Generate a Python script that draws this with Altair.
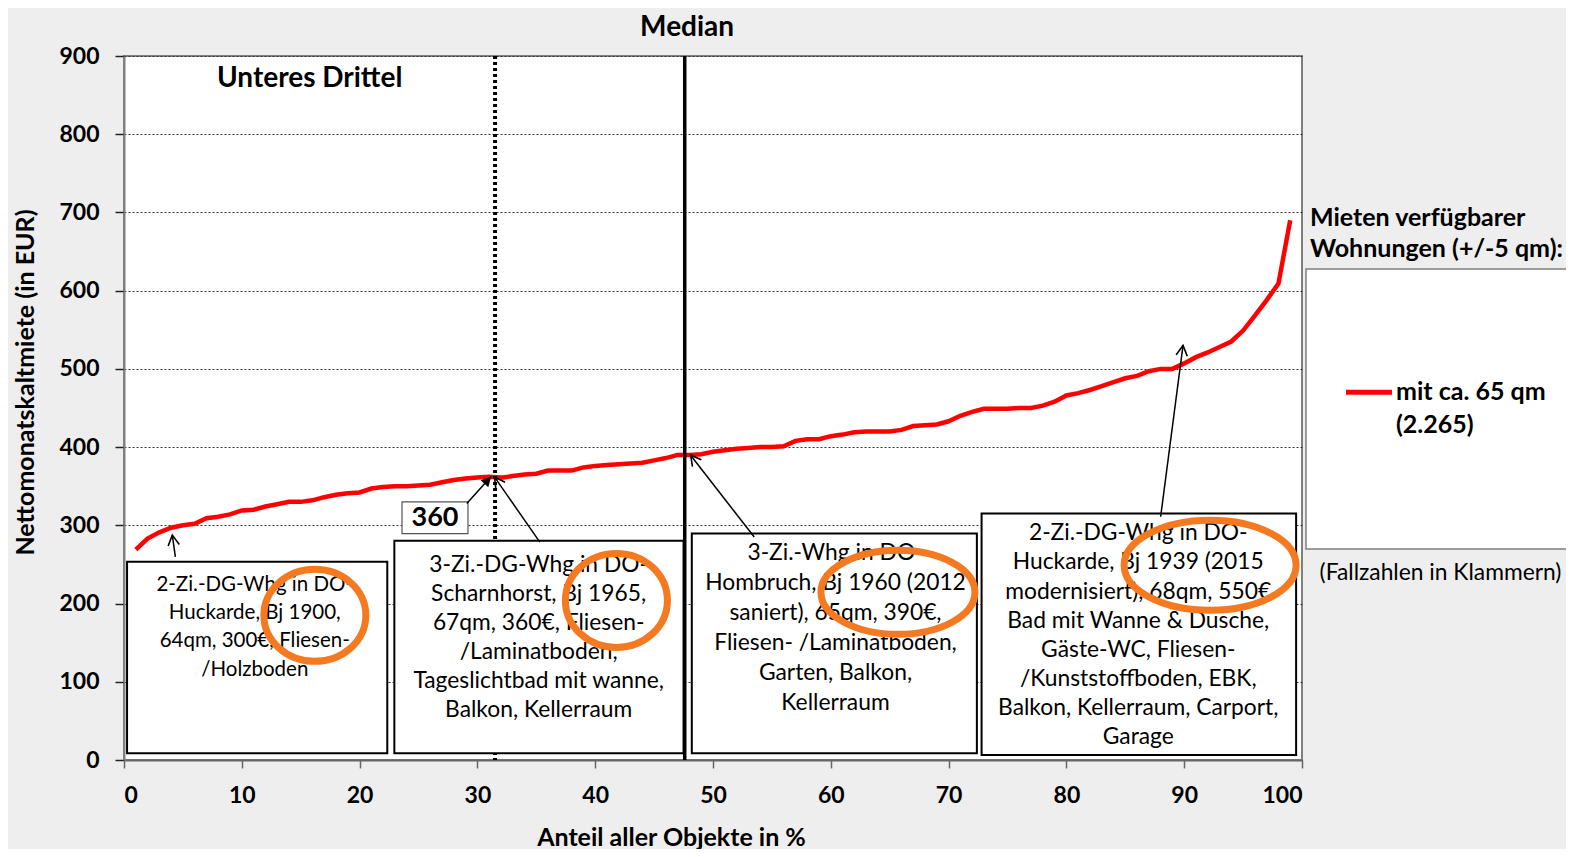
import math
import altair as alt
import pandas as pd

# ---------------- data ----------------
pct = list(range(1, 100))
rent = [269, 283, 291, 297, 300, 302, 309, 311, 314, 319,
        320, 324, 327, 330, 330, 332, 336, 339, 341, 342,
        347, 349, 350, 350, 351, 352, 355, 358, 360, 361,
        362, 361, 363, 365, 366, 370, 370, 370, 374, 376,
        377, 378, 379, 380, 383, 386, 390, 390, 391, 394,
        396, 398, 399, 400, 400, 401, 408, 410, 410, 414,
        416, 419, 420, 420, 420, 422, 427, 428, 429, 433,
        440, 445, 449, 449, 449, 450, 450, 453, 458, 466,
        469, 473, 478, 483, 488, 491, 497, 500, 500, 507,
        515, 521, 528, 535, 549, 568, 588, 609, 690]
series_label = "mit ca. 65 qm\n(2.265)"
legend_title = "Mieten verfügbarer\nWohnungen (+/-5 qm):"
legend_note = "(Fallzahlen in Klammern)"

x_ticks = [0, 10, 20, 30, 40, 50, 60, 70, 80, 90, 100]
y_ticks = [0, 100, 200, 300, 400, 500, 600, 700, 800, 900]

lower_third_pos = [31.5]
median_pos = [47.6]

box_text = [
    "2-Zi.-DG-Whg in DO-\nHuckarde, Bj 1900,\n64qm, 300€, Fliesen-\n/Holzboden",
    "3-Zi.-DG-Whg in DO-\nScharnhorst, Bj 1965,\n67qm, 360€, Fliesen-\n/Laminatboden,\nTageslichtbad mit wanne,\nBalkon, Kellerraum",
    "3-Zi.-Whg in DO-\nHombruch, Bj 1960 (2012\nsaniert), 65qm, 390€,\nFliesen- /Laminatboden,\nGarten, Balkon,\nKellerraum",
    "2-Zi.-DG-Whg in DO-\nHuckarde, Bj 1939 (2015\nmodernisiert), 68qm, 550€\nBad mit Wanne & Dusche,\nGäste-WC, Fliesen-\n/Kunststoffboden, EBK,\nBalkon, Kellerraum, Carport,\nGarage",
]
box_x1 = [0.26, 22.95, 48.2, 72.8]
box_x2 = [22.35, 47.5, 72.4, 99.5]
box_y1 = [8.6, 8.6, 8.6, 6.4]
box_y2 = [253.4, 280.3, 289.7, 315.0]
text_x = [11.1, 35.2, 60.4, 86.1]
text_y = [223.6, 249.2, 264.5, 289.7]   # centre of the first line
text_lh = [28.2, 29.0, 30.0, 29.1]
text_size = [20.5, 22.8, 22.8, 22.8]

value_box = [23.6, 29.2, 289.3, 330.0]   # x1, x2, y1, y2
value_text = ["360"]
value_pos = [26.4, 308.8]

# arrows: tail -> tip
arrow_x1 = [4.36, 35.3, 53.5, 88.0]
arrow_y1 = [259.8, 278.6, 285.0, 311.0]
arrow_x2 = [4.1, 31.46, 48.1, 89.9]
arrow_y2 = [287.5, 361.6, 389.7, 530.0]
fill_arrow = [29.1, 328.0, 31.18, 362.9]

circle_x = [16.2, 41.8, 65.7, 92.2]
circle_y = [184.9, 204.0, 214.4, 249.0]
circle_rx = [51, 51, 77, 86]
circle_ry = [46, 47, 42, 45]

# ---------------- layout ----------------
W, H = 1178, 704
KX = W / 100.0
KY = H / 900.0
FONT = "Lato"
ORANGE = "#F47920"

xs = alt.Scale(domain=[0, 100], nice=False, zero=False)
ys = alt.Scale(domain=[0, 900], nice=False)

AX = alt.Axis(
    values=x_ticks, title="Anteil aller Objekte in %", grid=False,
    labelFont=FONT, labelFontSize=23, labelFontWeight="bold", labelColor="black",
    tickSize=8, tickColor="#666666", tickWidth=1.5,
    domainColor="#666666", domainWidth=2, labelPadding=16,
    titleFont=FONT, titleFontSize=25, titleFontWeight="bold", titleColor="black",
    titleX=547, titleY=85, titleBaseline="alphabetic", titleAnchor="middle")
AY = alt.Axis(
    values=y_ticks, title="Nettomonatskaltmiete (in EUR)",
    grid=True, gridColor="#333333", gridDash=[2, 2], gridWidth=1,
    labelFont=FONT, labelFontSize=23, labelFontWeight="bold", labelColor="black",
    tickSize=9, tickColor="#222222", tickWidth=1.5,
    domainColor="#808080", domainWidth=2, labelPadding=16,
    titleFont=FONT, titleFontSize=25, titleFontWeight="bold", titleColor="black",
    titleX=-91, titleY=326, titleBaseline="alphabetic", titleAnchor="middle")


def X(f):
    return alt.X(f, type="quantitative", scale=xs, axis=AX)


def Y(f):
    return alt.Y(f, type="quantitative", scale=ys, axis=AY)


line_df = pd.DataFrame({"pct": pct, "rent": rent})
line = alt.Chart(line_df).mark_line(color="#ff0000", strokeWidth=4.5).encode(
    x=X("pct"), y=Y("rent"))

dotted = alt.Chart(pd.DataFrame({"x": lower_third_pos})).mark_rule(
    color="black", strokeWidth=4, strokeDash=[3, 3]).encode(x=X("x"))
solid = alt.Chart(pd.DataFrame({"x": median_pos})).mark_rule(
    color="black", strokeWidth=3.5).encode(x=X("x"))

box_df = pd.DataFrame({"x1": box_x1, "x2": box_x2, "y1": box_y1, "y2": box_y2})
boxes = alt.Chart(box_df).mark_rect(fill="white", stroke="black", strokeWidth=2).encode(
    x=X("x1"), x2="x2", y=Y("y1"), y2="y2")

box_labels = []
for t, tx, ty, lh, fs in zip(box_text, text_x, text_y, text_lh, text_size):
    df = pd.DataFrame({"tx": [tx], "ty": [ty], "text": [t]})
    box_labels.append(alt.Chart(df).mark_text(
        font=FONT, fontSize=fs, color="black", align="center", baseline="middle",
        lineBreak="\n", lineHeight=lh).encode(x=X("tx"), y=Y("ty"), text="text:N"))

vb_df = pd.DataFrame({"x1": [value_box[0]], "x2": [value_box[1]],
                      "y1": [value_box[2]], "y2": [value_box[3]],
                      "tx": [value_pos[0]], "ty": [value_pos[1]], "text": value_text})
vbox = alt.Chart(vb_df).mark_rect(fill="white", stroke="#555555", strokeWidth=1.2).encode(
    x=X("x1"), x2="x2", y=Y("y1"), y2="y2")
vtext = alt.Chart(vb_df).mark_text(
    font=FONT, fontSize=27, fontWeight="bold", color="black", align="center",
    baseline="middle").encode(x=X("tx"), y=Y("ty"), text="text:N")


def head_angle(x1, y1, x2, y2):
    dxs = (x2 - x1) * KX
    dys = -(y2 - y1) * KY
    return (math.degrees(math.atan2(dxs, -dys)) + 360) % 360


arr_df = pd.DataFrame({"x1": arrow_x1, "y1": arrow_y1, "x2": arrow_x2, "y2": arrow_y2})
arr_df["angle"] = [head_angle(a, b, c, d) for a, b, c, d in
                   zip(arrow_x1, arrow_y1, arrow_x2, arrow_y2)]
arrows = alt.Chart(arr_df).mark_rule(color="black", strokeWidth=1.5).encode(
    x=X("x1"), y=Y("y1"), x2="x2", y2="y2")
heads = alt.Chart(arr_df).mark_point(
    shape="M-0.55,1L0,0L0.55,1", size=420, filled=False, color="black",
    strokeWidth=1.6, opacity=1).encode(
    x=X("x2"), y=Y("y2"), angle=alt.Angle("angle:Q", scale=None))

fa_df = pd.DataFrame({"x1": [fill_arrow[0]], "y1": [fill_arrow[1]],
                      "x2": [fill_arrow[2]], "y2": [fill_arrow[3]]})
fa_df["angle"] = [head_angle(*fill_arrow)]
farrow = alt.Chart(fa_df).mark_rule(color="black", strokeWidth=1.5).encode(
    x=X("x1"), y=Y("y1"), x2="x2", y2="y2")
fhead = alt.Chart(fa_df).mark_point(
    shape="M-0.5,1L0,0L0.5,1Z", size=420, filled=True, color="black", opacity=1).encode(
    x=X("x2"), y=Y("y2"), angle=alt.Angle("angle:Q", scale=None))


def ellipse_path(ratio):
    k = 0.5523
    r = ratio
    return (f"M1,0C1,{k*r:.4f} {k},{r:.4f} 0,{r:.4f}"
            f"C{-k},{r:.4f} -1,{k*r:.4f} -1,0"
            f"C-1,{-k*r:.4f} {-k},{-r:.4f} 0,{-r:.4f}"
            f"C{k},{-r:.4f} 1,{-k*r:.4f} 1,0Z")


ell_df = pd.DataFrame({"x": circle_x, "y": circle_y})
ell_df["path"] = [ellipse_path(ry / rx) for rx, ry in zip(circle_rx, circle_ry)]
ell_df["size"] = [(2 * rx) ** 2 for rx in circle_rx]
ellipses = alt.Chart(ell_df).mark_point(filled=False, color=ORANGE, strokeWidth=7, opacity=1).encode(
    x=X("x"), y=Y("y"), shape=alt.Shape("path:N", scale=None),
    size=alt.Size("size:Q", scale=None))

lbl_df = pd.DataFrame({"x": [15.76, 47.8], "y": [860.4, 925.0],
                       "text": ["Unteres Drittel", "Median"]})
labels = alt.Chart(lbl_df).mark_text(
    font=FONT, fontSize=28, fontWeight="bold", color="black", align="center",
    baseline="alphabetic").encode(x=X("x"), y=Y("y"), text="text:N")

# ---------------- legend panel (right side) ----------------
one = pd.DataFrame({"a": [0]})
leg_box = alt.Chart(one).mark_rect(fill="white", stroke="#7f7f7f", strokeWidth=1.5).encode(
    x=alt.value(1182), x2=alt.value(1530), y=alt.value(213), y2=alt.value(493))
leg_title = alt.Chart(one).mark_text(
    font=FONT, fontSize=25, fontWeight="bold", color="black", align="left",
    baseline="middle", lineBreak="\n", lineHeight=30.5).encode(
    x=alt.value(1186), y=alt.value(162.3), text=alt.value(legend_title))
leg_line = alt.Chart(one).mark_rule(color="#ff0000", strokeWidth=5).encode(
    x=alt.value(1222), x2=alt.value(1268), y=alt.value(336.3))
leg_label = alt.Chart(one).mark_text(
    font=FONT, fontSize=25, fontWeight="bold", color="black", align="left",
    baseline="middle", lineBreak="\n", lineHeight=32.7).encode(
    x=alt.value(1272), y=alt.value(336.3), text=alt.value(series_label))
leg_note = alt.Chart(one).mark_text(
    font=FONT, fontSize=22.8, color="black", align="center", baseline="middle").encode(
    x=alt.value(1316.5), y=alt.value(517.3), text=alt.value(legend_note))

chart = alt.layer(
    line, dotted, solid, boxes, *box_labels, vbox, vtext,
    arrows, heads, farrow, fhead, ellipses, labels,
    leg_box, leg_title, leg_line, leg_label, leg_note,
).properties(
    width=W, height=H,
    padding={"left": 116, "top": 48, "right": 264, "bottom": 89},
    autosize=alt.AutoSizeParams(type="none"),
    background="#eeeeee",
).configure_view(fill="white", stroke="#808080", strokeWidth=2)

chart.save("out.html", embed_options={"renderer": "svg", "actions": False})
